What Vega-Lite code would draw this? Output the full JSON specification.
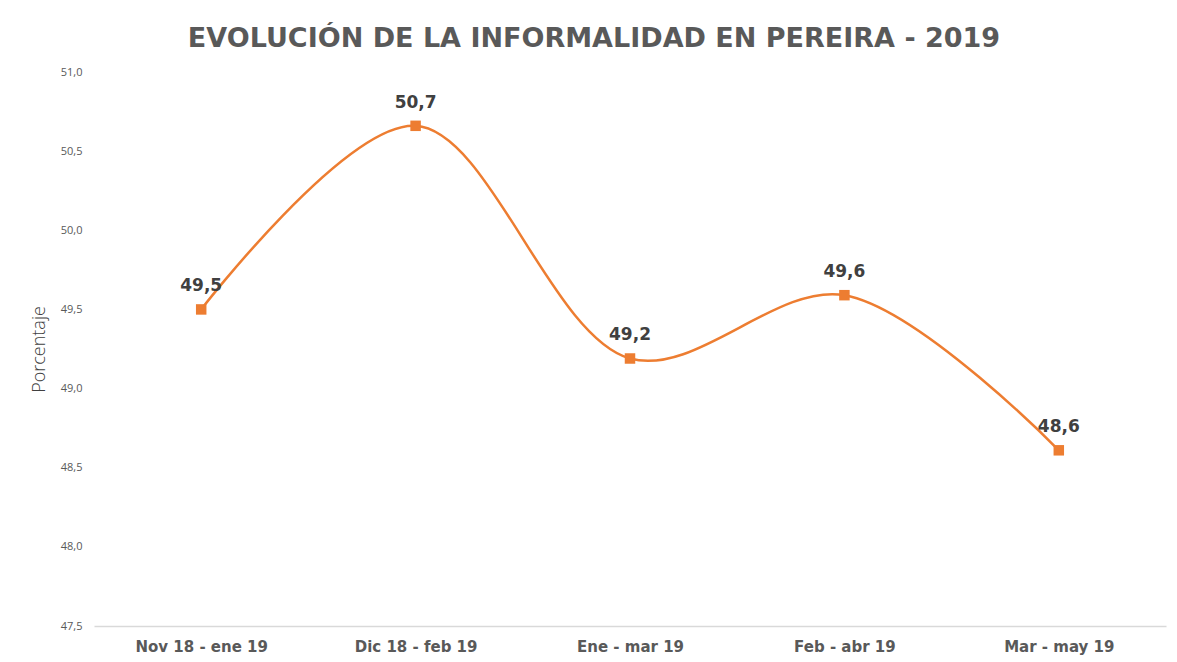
{
  "$schema": "https://vega.github.io/schema/vega-lite/v6.json",
  "width": 1072,
  "height": 554,
  "autosize": {"type": "none"},
  "padding": {"left": 94, "top": 72, "right": 11, "bottom": 36},
  "background": "white",
  "config": {
    "view": {"stroke": null},
    "locale": {"number": {"decimal": ",", "thousands": ".", "grouping": [3], "currency": ["", " €"]}},
    "font": "DejaVu Sans"
  },
  "title": {
    "text": "EVOLUCIÓN DE LA INFORMALIDAD EN PEREIRA - 2019",
    "font": "DejaVu Sans",
    "fontSize": 27,
    "fontWeight": "bold",
    "color": "#595959",
    "anchor": "middle",
    "dx": -36,
    "offset": 13
  },
  "data": {
    "values": [
      {"periodo": "Nov 18 - ene 19", "valor": 49.5},
      {"periodo": "Dic 18 - feb 19", "valor": 50.66},
      {"periodo": "Ene - mar 19", "valor": 49.19},
      {"periodo": "Feb - abr  19", "valor": 49.59},
      {"periodo": "Mar - may 19", "valor": 48.61}
    ]
  },
  "encoding": {
    "x": {
      "field": "periodo",
      "type": "ordinal",
      "sort": null,
      "scale": {"paddingInner": 0, "paddingOuter": 0.5},
      "axis": {
        "title": null,
        "labelAngle": 0,
        "labelFont": "DejaVu Sans",
        "labelFontSize": 15,
        "labelFontWeight": "bold",
        "labelColor": "#595959",
        "labelPadding": 13,
        "ticks": false,
        "domainColor": "#d9d9d9",
        "domainWidth": 1.5,
        "grid": false
      }
    },
    "y": {
      "field": "valor",
      "type": "quantitative",
      "scale": {"domain": [47.5, 51.0], "nice": false, "zero": false},
      "axis": {
        "title": "Porcentaje",
        "titleFont": "Open Sans",
        "titleFontSize": 18,
        "titleFontWeight": 300,
        "titleColor": "#404040",
        "titlePadding": 12,
        "values": [47.5, 48.0, 48.5, 49.0, 49.5, 50.0, 50.5, 51.0],
        "format": ".1f",
        "labelFont": "Open Sans",
        "labelFontSize": 11,
        "labelColor": "#595959",
        "labelPadding": 12,
        "ticks": false,
        "domain": false,
        "grid": false
      }
    }
  },
  "layer": [
    {
      "mark": {"type": "line", "color": "#ED7D31", "strokeWidth": 2.5, "interpolate": "catmull-rom"}
    },
    {
      "mark": {"type": "point", "shape": "square", "filled": true, "opacity": 1, "color": "#ED7D31", "size": 110}
    },
    {
      "mark": {"type": "text", "font": "DejaVu Sans", "fontSize": 17, "fontWeight": "bold", "color": "#404040", "dy": -23, "baseline": "middle"},
      "encoding": {"text": {"field": "valor", "type": "quantitative", "format": ".1f"}}
    }
  ]
}
